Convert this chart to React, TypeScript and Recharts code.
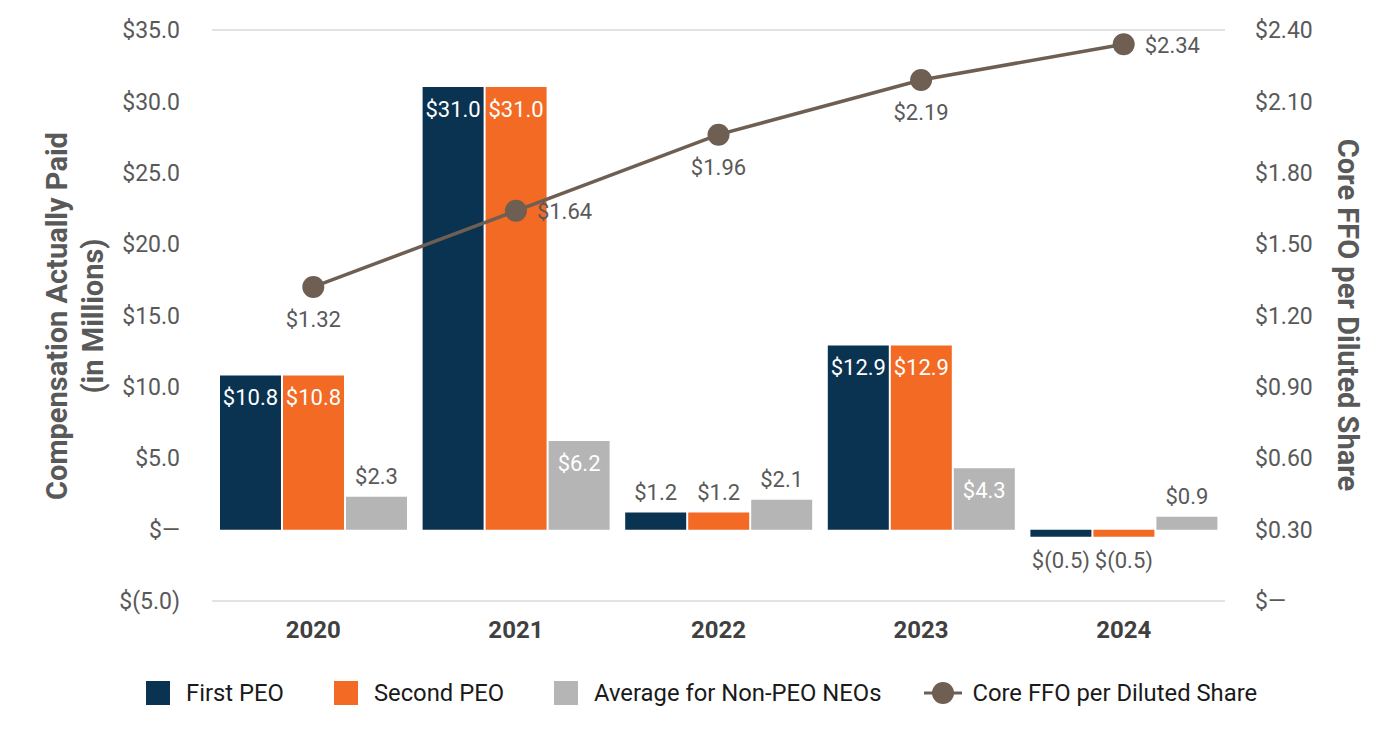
import React from "react";
import {
  ComposedChart,
  Bar,
  Line,
  XAxis,
  YAxis,
  CartesianGrid,
  LabelList,
} from "recharts";

const years = ["2020", "2021", "2022", "2023", "2024"];
const firstPEO = [10.8, 31.0, 1.2, 12.9, -0.5];
const secondPEO = [10.8, 31.0, 1.2, 12.9, -0.5];
const avgNonPEO = [2.3, 6.2, 2.1, 4.3, 0.9];
const coreFFO = [1.32, 1.64, 1.96, 2.19, 2.34];
const leftTicks = [-5, 0, 5, 10, 15, 20, 25, 30, 35];
const rightTicks = [0, 0.3, 0.6, 0.9, 1.2, 1.5, 1.8, 2.1, 2.4];

const ffoLabelSide = ["bottom", "right", "bottom", "bottom", "right"];

const data = years.map((y, i) => ({
  year: y,
  first: firstPEO[i],
  second: secondPEO[i],
  avg: avgNonPEO[i],
  ffo: coreFFO[i],
}));

const NAVY = "#0a3351";
const ORANGE = "#f26a23";
const GRAY = "#b5b5b5";
const BROWN = "#6e5f52";
const TEXT = "#595959";
const FONT = "Roboto, sans-serif";

const fmtM = (v: number) => {
  if (v === 0) return "$\u2014";
  if (v < 0) return `$(${Math.abs(v).toFixed(1)})`;
  return `$${v.toFixed(1)}`;
};
const fmtR = (v: number) => (v === 0 ? "$\u2014" : `$${v.toFixed(2)}`);

const BarLabel = (props: any) => {
  const { x, y, width, height, value } = props;
  const cx = x + width / 2;
  if (value < 0) {
    const b2 = Math.max(y, y + height);
    return (
      <text x={cx} y={b2 + 24} textAnchor="middle" dominantBaseline="central" fill={TEXT} fontSize={22} fontFamily={FONT}>
        {fmtM(value)}
      </text>
    );
  }
  if (value >= 4) {
    return (
      <text x={cx} y={y + 22} textAnchor="middle" dominantBaseline="central" fill="#ffffff" fontSize={22} fontFamily={FONT}>
        {fmtM(value)}
      </text>
    );
  }
  return (
    <text x={cx} y={y - 20} textAnchor="middle" dominantBaseline="central" fill={TEXT} fontSize={22} fontFamily={FONT}>
      {fmtM(value)}
    </text>
  );
};

const LineLabel = (props: any) => {
  const { x, y, value, index } = props;
  const side = ffoLabelSide[index];
  if (side === "right") {
    return (
      <text x={x + 21} y={y + 1} textAnchor="start" dominantBaseline="central" fill={TEXT} fontSize={22} fontFamily={FONT}>
        {fmtR(value)}
      </text>
    );
  }
  return (
    <text x={x} y={y + 33} textAnchor="middle" dominantBaseline="central" fill={TEXT} fontSize={22} fontFamily={FONT}>
      {fmtR(value)}
    </text>
  );
};

const LeftTitle = () => {
  const cy = 316;
  const cx = 75;
  return (
    <text
      transform={`rotate(-90, ${cx}, ${cy})`}
      x={cx}
      y={cy}
      textAnchor="middle"
      dominantBaseline="central"
      fill={TEXT}
      fontSize={29}
      fontWeight={700}
      fontFamily={FONT}
    >
      <tspan x={cx} dy="-18">Compensation Actually Paid</tspan>
      <tspan x={cx} dy="36">(in Millions)</tspan>
    </text>
  );
};

const RightTitle = () => {
  const cy = 315;
  const cx = 1348;
  return (
    <text
      transform={`rotate(90, ${cx}, ${cy})`}
      x={cx}
      y={cy}
      textAnchor="middle"
      dominantBaseline="central"
      fill={TEXT}
      fontSize={29}
      fontWeight={700}
      fontFamily={FONT}
    >
      Core FFO per Diluted Share
    </text>
  );
};

const legendItems = [
  { name: "First PEO", color: NAVY, type: "square" },
  { name: "Second PEO", color: ORANGE, type: "square" },
  { name: "Average for Non-PEO NEOs", color: GRAY, type: "square" },
  { name: "Core FFO per Diluted Share", color: BROWN, type: "line" },
];

const LegendBlock = () => (
  <div
    style={{
      position: "absolute",
      left: 0,
      top: 679,
      width: 1400,
      height: 28,
      display: "flex",
      justifyContent: "flex-start",
      alignItems: "center",
      paddingLeft: 146,
      boxSizing: "border-box",
      fontFamily: FONT,
      fontSize: 23.8,
      color: "#1a1a1a",
      whiteSpace: "nowrap",
    }}
  >
    {legendItems.map((it, i) => (
      <div key={it.name} style={{ display: "flex", alignItems: "center", marginRight: i === 2 ? 43 : 50 }}>
        {it.type === "square" ? (
          <svg width={24} height={24} style={{ marginRight: 16, display: "block" }}>
            <rect x={0} y={0} width={24} height={24} fill={it.color} />
          </svg>
        ) : (
          <svg width={38} height={24} style={{ marginRight: 10, display: "block" }}>
            <line x1={0} y1={12} x2={38} y2={12} stroke={it.color} strokeWidth={3} />
            <circle cx={19} cy={12} r={11} fill={it.color} />
          </svg>
        )}
        <span>{it.name}</span>
      </div>
    ))}
  </div>
);

export default function App() {
  return (
    <div style={{ position: "absolute", left: 0, top: 0, width: 1400, height: 748, background: "#fff" }}>
      <ComposedChart
        width={1400}
        height={748}
        data={data}
        margin={{ top: 30, right: 0, left: 0, bottom: 87 }}
        barGap={2}
      >
        <CartesianGrid vertical={false} stroke="#e3e3e3" strokeWidth={2} />
        <XAxis
          dataKey="year"
          axisLine={false}
          tickLine={false}
          tickSize={0}
          tickMargin={20}
          height={60}
          tick={{ fill: "#404040", fontSize: 24, fontWeight: 700, fontFamily: FONT }}
        />
        <YAxis
          yAxisId="left"
          orientation="left"
          width={212}
          domain={[-5, 35]}
          ticks={leftTicks}
          interval={0}
          tickFormatter={fmtM}
          axisLine={false}
          tickLine={false}
          tickSize={0}
          tickMargin={32}
          tick={{ fill: TEXT, fontSize: 23, fontFamily: FONT }}
          label={<LeftTitle />}
        />
        <YAxis
          yAxisId="right"
          orientation="right"
          width={175}
          domain={[0, 2.4]}
          ticks={rightTicks}
          interval={0}
          tickFormatter={fmtR}
          axisLine={false}
          tickLine={false}
          tickSize={0}
          tickMargin={30}
          tick={{ fill: TEXT, fontSize: 23, fontFamily: FONT }}
          label={<RightTitle />}
        />
        <Bar yAxisId="left" dataKey="first" name="First PEO" fill={NAVY} barSize={61} isAnimationActive={false}>
          <LabelList dataKey="first" content={<BarLabel />} />
        </Bar>
        <Bar yAxisId="left" dataKey="second" name="Second PEO" fill={ORANGE} barSize={61} isAnimationActive={false}>
          <LabelList dataKey="second" content={<BarLabel />} />
        </Bar>
        <Bar yAxisId="left" dataKey="avg" name="Average for Non-PEO NEOs" fill={GRAY} barSize={61} isAnimationActive={false}>
          <LabelList dataKey="avg" content={<BarLabel />} />
        </Bar>
        <Line
          yAxisId="right"
          dataKey="ffo"
          name="Core FFO per Diluted Share"
          stroke={BROWN}
          strokeWidth={3.5}
          dot={{ r: 11, fill: BROWN, stroke: "none" }}
          activeDot={false}
          isAnimationActive={false}
        >
          <LabelList dataKey="ffo" content={<LineLabel />} />
        </Line>
      </ComposedChart>
      <LegendBlock />
    </div>
  );
}
